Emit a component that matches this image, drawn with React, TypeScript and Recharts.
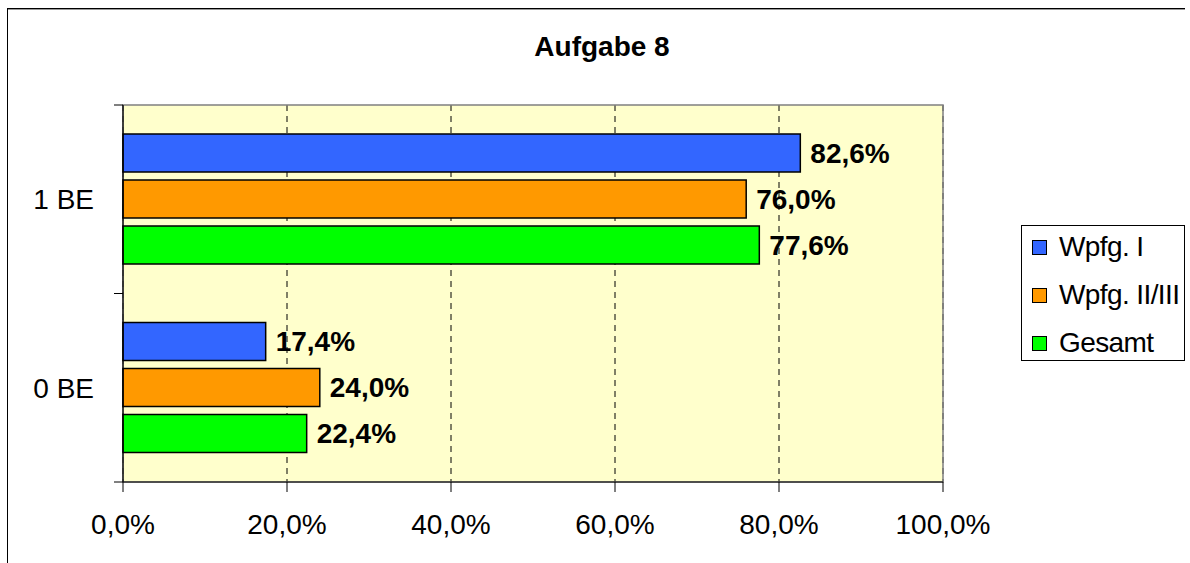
import React from 'react';
import { BarChart, Bar, XAxis, YAxis, CartesianGrid, LabelList, Legend, ReferenceArea } from 'recharts';

const title = 'Aufgabe 8';
const categories = ['1 BE', '0 BE'];
const wpfgI = [82.6, 17.4];
const wpfgIIIII = [76.0, 24.0];
const gesamt = [77.6, 22.4];
const seriesNames = ['Wpfg. I', 'Wpfg. II/III', 'Gesamt'];
const seriesColors = ['#3366FF', '#FF9900', '#00FF00'];
const xTicks = [0, 20, 40, 60, 80, 100];

const data = categories.map((c, i) => ({ cat: c, s0: wpfgI[i], s1: wpfgIIIII[i], s2: gesamt[i] }));

const FONT = '"Liberation Sans", Arial, sans-serif';
const fmt = (v: number) => v.toFixed(1).replace('.', ',') + '%';

const TICK_SIZE = 9;
const TICK_MARGIN = 20;

const YTick = (props: any) => {
  const { x, y, payload, height, visibleTicksCount } = props;
  const axisX = x + TICK_SIZE + TICK_MARGIN;
  let off = payload && payload.offset > 2 ? payload.offset : 0;
  if (!off && height && visibleTicksCount) off = height / visibleTicksCount / 2;
  return (
    <g>
      <line x1={axisX - TICK_SIZE} x2={axisX} y1={y - off} y2={y - off} stroke="#000" strokeWidth={1} />
      <line x1={axisX - TICK_SIZE} x2={axisX} y1={y + off} y2={y + off} stroke="#000" strokeWidth={1} />
      <text x={x} y={y} dy="0.355em" textAnchor="end" fontFamily={FONT} fontSize={28} fill="#000">
        {payload.value}
      </text>
    </g>
  );
};

const LegendContent = (props: any) => {
  const payload = [...(props.payload || [])].sort(
    (a: any, b: any) => seriesNames.indexOf(a.value) - seriesNames.indexOf(b.value)
  );
  return (
    <div
      style={{
        position: 'relative',
        width: 164,
        height: 136,
        boxSizing: 'border-box',
        border: '1px solid #000',
        background: '#fff',
        fontFamily: FONT,
      }}
    >
      {payload.map((p: any, i: number) => (
        <div
          key={i}
          style={{
            position: 'absolute',
            left: 10,
            top: -3 + i * 48,
            height: 48,
            display: 'flex',
            alignItems: 'center',
            whiteSpace: 'nowrap',
          }}
        >
          <div
            style={{
              width: 13,
              height: 13,
              border: '1px solid #000',
              background: p.color,
              marginRight: 12,
            }}
          />
          <span style={{ fontSize: 28, color: '#000', letterSpacing: '-0.6px' }}>{p.value}</span>
        </div>
      ))}
    </div>
  );
};

export default function App() {
  return (
    <div style={{ position: 'absolute', left: 0, top: 0, width: 1190, height: 563, background: '#fff' }}>
      <div style={{ position: 'absolute', left: 7, top: 8, width: 1178, height: 1, background: '#000' }} />
      <div style={{ position: 'absolute', left: 8, top: 9, width: 1177, height: 1, background: '#999' }} />
      <div style={{ position: 'absolute', left: 7, top: 8, width: 1, height: 555, background: '#000' }} />
      <div
        style={{
          position: 'absolute',
          left: 0,
          top: 33,
          width: 1204,
          textAlign: 'center',
          fontFamily: FONT,
          fontWeight: 'bold',
          fontSize: 28,
          lineHeight: '28px',
          color: '#000',
        }}
      >
        {title}
      </div>
      <div style={{ position: 'absolute', left: 0, top: 0 }}>
        <BarChart
          width={1190}
          height={563}
          data={data}
          layout="vertical"
          margin={{ top: 105, right: 247, bottom: 21, left: 23 }}
          barSize={38}
          barGap={8}
        >
          <CartesianGrid
            horizontal={false}
            vertical={true}
            fill="#FFFFCC"
            stroke="#000"
            strokeDasharray="6 5"
            strokeWidth={1}
          />
          <ReferenceArea x1={0} x2={100} fill="none" stroke="#808080" strokeWidth={1.5} ifOverflow="visible" />
          <XAxis
            type="number"
            domain={[0, 100]}
            ticks={xTicks}
            tickFormatter={fmt}
            height={60}
            tickSize={10}
            tickMargin={22}
            axisLine={{ stroke: '#000', strokeWidth: 1.2 }}
            tickLine={{ stroke: '#000', strokeWidth: 1 }}
            tick={{ fontFamily: FONT, fontSize: 28, fill: '#000' }}
            interval={0}
          />
          <YAxis
            type="category"
            dataKey="cat"
            width={100}
            tickSize={TICK_SIZE}
            tickMargin={TICK_MARGIN}
            tickLine={false}
            axisLine={{ stroke: '#000', strokeWidth: 1.2 }}
            tick={<YTick />}
            interval={0}
          />
          <Legend
            layout="vertical"
            align="center"
            verticalAlign="middle"
            content={<LegendContent />}
            wrapperStyle={{ position: 'absolute', left: 1021, top: 225, width: 164, height: 136 }}
          />
          {['s0', 's1', 's2'].map((k, i) => (
            <Bar
              key={k}
              dataKey={k}
              name={seriesNames[i]}
              fill={seriesColors[i]}
              stroke="#000"
              strokeWidth={1.5}
              isAnimationActive={false}
            >
              <LabelList
                dataKey={k}
                position="right"
                offset={10}
                formatter={(v: any) => fmt(Number(v))}
                style={{ fontFamily: FONT, fontSize: 28, fontWeight: 'bold', fill: '#000' }}
              />
            </Bar>
          ))}
        </BarChart>
      </div>
    </div>
  );
}
